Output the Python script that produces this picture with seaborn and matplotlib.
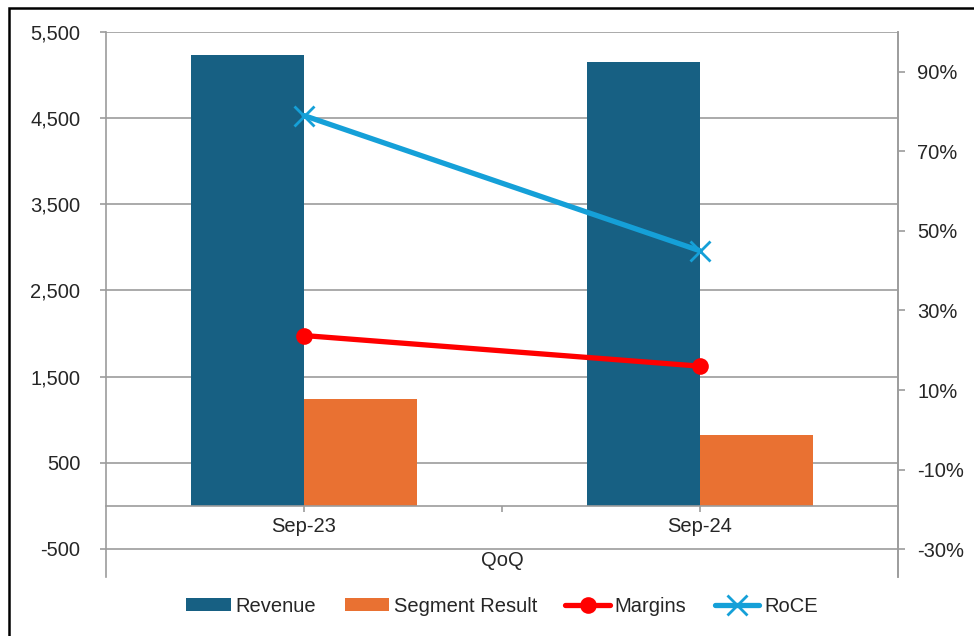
import numpy as np
import pandas as pd
import matplotlib
matplotlib.use("Agg")
import matplotlib.pyplot as plt
import matplotlib.ticker as mticker
from matplotlib.patches import Rectangle
import seaborn as sns

# data
periods = ["Sep-23", "Sep-24"]
revenue = [5230, 5155]
segment_result = [1245, 820]
margins = [0.237, 0.16]
roce = [0.79, 0.45]

left_ticks = [-500, 500, 1500, 2500, 3500, 4500, 5500]
right_ticks = [-0.30, -0.10, 0.10, 0.30, 0.50, 0.70, 0.90]

c_rev = "#176083"
c_seg = "#E97132"
c_mar = "#FF0000"
c_roce = "#15A0D8"
grid_c = "#9C9C9C"

sns.set_theme(style="white")
plt.rcParams['font.family'] = ['Liberation Sans', 'DejaVu Sans']
plt.rcParams['axes.unicode_minus'] = False
fs = 14.5

bars = pd.DataFrame({
    "Period": periods * 2,
    "Series": ["Revenue"] * 2 + ["Segment Result"] * 2,
    "Value": revenue + segment_result,
})
lines = pd.DataFrame({"x": [0, 1], "Margins": margins, "RoCE": roce})

fig = plt.figure(figsize=(9.74, 6.36), dpi=100)
ax = fig.add_axes([106 / 974, 1 - 577 / 636, (898 - 106) / 974, (577 - 32) / 636])

sns.barplot(data=bars, x="Period", y="Value", hue="Series",
            palette=[c_rev, c_seg], width=0.57, saturation=1, linewidth=0,
            ax=ax)
handles, labels = ax.get_legend_handles_labels()
if ax.legend_ is not None:
    ax.legend_.remove()

ax.set_xlim(-0.5, 1.5)
ax.set_ylim(-825, 5500)
ax.set_yticks(left_ticks)
ax.yaxis.set_major_formatter(mticker.StrMethodFormatter("{x:,.0f}"))
ax.grid(axis="y", color=grid_c, linewidth=1.2)
ax.grid(axis="x", visible=False)
ax.set_axisbelow(True)
ax.set_xlabel("")
ax.set_ylabel("")

# category axis sits at zero
ax.spines["bottom"].set_position(("data", 0))
ax.spines["top"].set_visible(False)
for s in ["left", "right", "bottom"]:
    ax.spines[s].set_color(grid_c)
    ax.spines[s].set_linewidth(1.2)
ax.set_xticks([0, 1])
ax.set_xticks([0.5], minor=True)
ax.tick_params(axis="x", which="both", direction="out", length=4, color=grid_c,
               width=1.2, pad=4, labelsize=fs, bottom=True)
ax.tick_params(axis="y", left=True, length=4.5, color=grid_c, width=1.2, pad=14,
               labelsize=fs)
ax.text(0.5, 0.03, "QoQ", transform=ax.transAxes, ha="center", va="center",
        fontsize=fs)

# percentage series on the secondary axis
ax2 = ax.twinx()
sns.lineplot(data=lines, x="x", y="Margins", color=c_mar, linewidth=3.8,
             marker="o", markersize=12, markeredgewidth=0, label="Margins",
             ax=ax2)
sns.lineplot(data=lines, x="x", y="RoCE", color=c_roce, linewidth=3.8,
             marker="x", markersize=14, markeredgewidth=2,
             markeredgecolor=c_roce, label="RoCE", ax=ax2)
h2, l2 = ax2.get_legend_handles_labels()
if ax2.legend_ is not None:
    ax2.legend_.remove()

ax2.set_xlim(-0.5, 1.5)
ax2.set_ylim(-0.37, 1.0)
ax2.set_yticks(right_ticks)
ax2.yaxis.set_major_formatter(mticker.PercentFormatter(1.0, decimals=0))
ax2.set_ylabel("")
ax2.set_xlabel("")
ax2.grid(False)
for s in ["left", "top", "bottom"]:
    ax2.spines[s].set_visible(False)
ax2.spines["right"].set_color(grid_c)
ax2.spines["right"].set_linewidth(1.2)
ax2.tick_params(axis="y", right=True, length=5, color=grid_c, width=1.2, pad=9,
                labelsize=fs)

fig.legend(handles + h2, labels + l2, loc="center",
           bbox_to_anchor=(502 / 974, 1 - 606 / 636),
           ncol=4, frameon=False, fontsize=fs, handlelength=2.2,
           handleheight=0.6, handletextpad=0.25, columnspacing=1.4)

# outer chart border
fig.add_artist(Rectangle((9 / 974, -0.1), 1.2, 1 - 8 / 636 + 0.1,
                         transform=fig.transFigure, fill=False,
                         edgecolor="black", linewidth=1.8))

fig.savefig("out.png", dpi=100)
